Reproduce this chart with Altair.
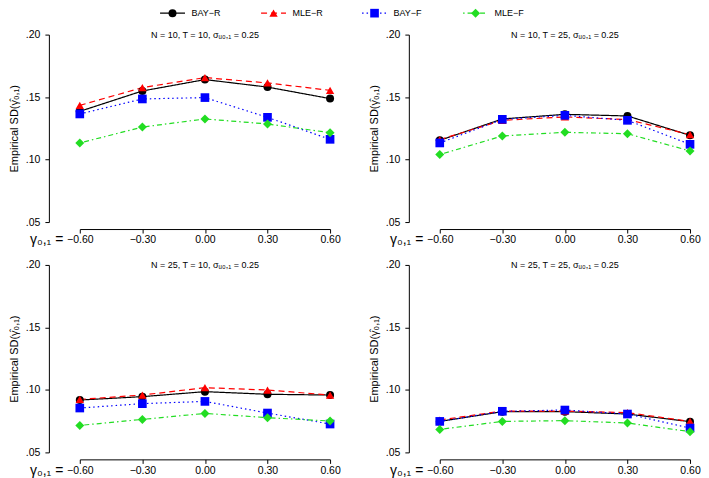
import altair as alt
import pandas as pd

FONT = "Liberation Sans"

series = ["BAY-R", "MLE-R", "BAY-F", "MLE-F"]
series_colors = ["#000000", "#FF0000", "#0000FF", "#22DD22"]
series_dashes = [[1, 0], [6, 4], [1.5, 3], [1.5, 3, 5, 3]]
series_shapes = ["circle", "triangle-up", "square", "diamond"]
series_sizes = [64, 81, 49, 36]

gamma_values = [-0.60, -0.30, 0.00, 0.30, 0.60]
y_ticks = [0.05, 0.10, 0.15, 0.20]

panel_titles = [
    "N = 10, T = 10, σᵤ₀,₁ = 0.25",
    "N = 10, T = 25, σᵤ₀,₁ = 0.25",
    "N = 25, T = 10, σᵤ₀,₁ = 0.25",
    "N = 25, T = 25, σᵤ₀,₁ = 0.25",
]

# Panel 1: N = 10, T = 10
p1_bay_r = [0.1386, 0.1549, 0.1640, 0.1580, 0.1488]
p1_mle_r = [0.1434, 0.1576, 0.1656, 0.1613, 0.1554]
p1_bay_f = [0.1365, 0.1485, 0.1496, 0.1338, 0.1162]
p1_mle_f = [0.1133, 0.1260, 0.1325, 0.1285, 0.1215]
# Panel 2: N = 10, T = 25
p2_bay_r = [0.1154, 0.1325, 0.1362, 0.1349, 0.1194]
p2_mle_r = [0.1160, 0.1314, 0.1341, 0.1320, 0.1200]
p2_bay_f = [0.1133, 0.1322, 0.1354, 0.1314, 0.1122]
p2_mle_f = [0.1040, 0.1189, 0.1218, 0.1207, 0.1069]
# Panel 3: N = 25, T = 10
p3_bay_r = [0.0919, 0.0946, 0.0986, 0.0965, 0.0959]
p3_mle_r = [0.0924, 0.0959, 0.1018, 0.0999, 0.0959]
p3_bay_f = [0.0855, 0.0890, 0.0908, 0.0815, 0.0727]
p3_mle_f = [0.0716, 0.0764, 0.0812, 0.0778, 0.0751]
# Panel 4: N = 25, T = 25
p4_bay_r = [0.0748, 0.0826, 0.0826, 0.0807, 0.0746]
p4_mle_r = [0.0759, 0.0831, 0.0831, 0.0818, 0.0748]
p4_bay_f = [0.0748, 0.0829, 0.0839, 0.0807, 0.0695]
p4_mle_f = [0.0684, 0.0748, 0.0754, 0.0735, 0.0666]

panels = [
    [p1_bay_r, p1_mle_r, p1_bay_f, p1_mle_f],
    [p2_bay_r, p2_mle_r, p2_bay_f, p2_mle_f],
    [p3_bay_r, p3_mle_r, p3_bay_f, p3_mle_f],
    [p4_bay_r, p4_mle_r, p4_bay_f, p4_mle_f],
]

rows = []
for pi, panel_vals in enumerate(panels):
    for si, vals in enumerate(panel_vals):
        for g, v in zip(gamma_values, vals):
            rows.append({"panel": pi, "series": series[si], "order": si, "gamma": g, "sd": v})
df = pd.DataFrame(rows)

color_scale = alt.Scale(domain=series, range=series_colors)
dash_scale = alt.Scale(domain=series, range=series_dashes)
shape_scale = alt.Scale(domain=series, range=series_shapes)
size_scale = alt.Scale(domain=series, range=series_sizes)

PW, PH = 251, 188

# ---- legend (drawn above the first panel) ----
leg_df = pd.DataFrame({
    "series": series,
    "idx": [0, 1, 2, 3],
    "label": [s.replace("-", "−") for s in series],
})
LEG_Y = -21.5
LEG_STEP = 101.3
LEG_START = 93.0
lx = alt.X("idx:Q",
           scale=alt.Scale(domain=[-LEG_START / LEG_STEP, (PW - LEG_START) / LEG_STEP],
                           nice=False, zero=False),
           axis=None)
leg_base = alt.Chart(leg_df)
leg_rule = leg_base.mark_rule(xOffset=-12.5, x2Offset=12.5, strokeWidth=1.2).encode(
    x=lx, x2="idx:Q", y=alt.value(LEG_Y),
    color=alt.Color("series:N", scale=color_scale, legend=None),
    strokeDash=alt.StrokeDash("series:N", scale=dash_scale, legend=None),
)
leg_pts = leg_base.mark_point(filled=True, opacity=1, strokeWidth=0).encode(
    x=lx, y=alt.value(LEG_Y),
    color=alt.Color("series:N", scale=color_scale, legend=None),
    shape=alt.Shape("series:N", scale=shape_scale, legend=None),
    size=alt.Size("series:N", scale=size_scale, legend=None),
)
leg_txt = leg_base.mark_text(align="left", baseline="middle", dx=19, fontSize=9,
                             font=FONT, color="#000000").encode(
    x=lx, y=alt.value(LEG_Y), text="label:N"
)
legend_layer = alt.layer(leg_rule, leg_pts, leg_txt)

TITLE_OFFSET = -10.5


def make_panel(pi):
    d = df[df["panel"] == pi]
    x = alt.X(
        "gamma:Q",
        scale=alt.Scale(domain=[-0.6, 0.6], nice=False, zero=False),
        axis=alt.Axis(
            values=gamma_values, format=".2f", offset=7, tickSize=4, labelPadding=2,
            labelFlush=False, labelOverlap=False, labelFontSize=10.5,
            title="γ₀,₁ =", titleX=-17, titleY=11, titleAlign="right",
            titleBaseline="middle", titleAngle=0, titleFontSize=14,
        ),
    )
    y = alt.Y(
        "sd:Q",
        scale=alt.Scale(domain=[0.05, 0.20], nice=False, zero=False),
        axis=alt.Axis(
            values=y_ticks, labelExpr="substring(format(datum.value, '.2f'), 1)",
            offset=31, tickSize=4, labelPadding=5, labelFontSize=10.5,
            labelFlush=False, labelOverlap=False,
            title="Empirical SD(γ̂₀,₁)", titlePadding=5.5, titleFontSize=11,
        ),
    )
    base = alt.Chart(d)
    lines = base.mark_line(strokeWidth=1.2).encode(
        x=x, y=y,
        color=alt.Color("series:N", scale=color_scale, legend=None),
        strokeDash=alt.StrokeDash("series:N", scale=dash_scale, legend=None),
        detail="series:N",
    )
    pts = base.mark_point(filled=True, opacity=1, strokeWidth=0).encode(
        x=x, y=y,
        color=alt.Color("series:N", scale=color_scale, legend=None),
        shape=alt.Shape("series:N", scale=shape_scale, legend=None),
        size=alt.Size("series:N", scale=size_scale, legend=None),
        order="order:Q",
    )
    body = alt.layer(lines, pts)
    offset = TITLE_OFFSET
    if pi == 0:
        body = alt.layer(body, legend_layer).resolve_scale(x="independent")
        # the legend above this panel extends its bounds upward by about 21 px
        offset = TITLE_OFFSET - 20.75
    return body.properties(
        width=PW, height=PH,
        title=alt.Title(panel_titles[pi], fontSize=9, fontWeight="normal", font=FONT,
                        anchor="middle", offset=offset, color="#000000"),
    )


chart = (
    alt.concat(
        make_panel(0), make_panel(1), make_panel(2), make_panel(3),
        columns=2, spacing={"row": 43, "column": 110}, bounds="flush",
    )
    .properties(padding=0)
    .configure_view(stroke=None)
    .configure_axis(
        grid=False, domainColor="#000000", tickColor="#000000", labelColor="#000000",
        titleColor="#000000", labelFont=FONT, titleFont=FONT, titleFontWeight="normal",
        domainWidth=1, tickWidth=1,
    )
)

chart.save("out.html", embed_options={"renderer": "svg", "actions": False})
